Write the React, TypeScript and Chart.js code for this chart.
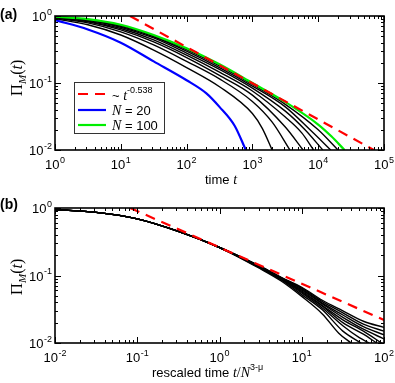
import { useEffect, useRef } from 'react';
import { Chart, registerables } from 'chart.js';

Chart.register(...registerables);

const SANS = '"Liberation Sans", Arial, Helvetica, sans-serif';
const SERIF = '"Liberation Serif", "Times New Roman", serif';

// ---------- Panel (a): Pi_M(t) vs time t, N = 20 ... 100 ----------
const sizesA = [20, 30, 40, 50, 60, 70, 80, 90, 100];
const xExpsA = [0, 1, 2, 3, 4, 5];
const yExps = [0, -1, -2];

const curveA_N20: [number, number][] = [[1, 0.87], [3.16, 0.63], [10, 0.40], [31.6, 0.21], [100, 0.11], [200, 0.07], [316, 0.044], [537, 0.023], [794, 0.01]];
const curveA_N30: [number, number][] = [[1, 0.91], [3.16, 0.74], [10, 0.52], [31.6, 0.31], [100, 0.17], [316, 0.088], [1000, 0.035], [1413, 0.021], [1995, 0.01]];
const curveA_N40: [number, number][] = [[1, 0.93], [3.16, 0.79], [10, 0.58], [31.6, 0.37], [100, 0.21], [316, 0.115], [1000, 0.053], [2000, 0.026], [3715, 0.01]];
const curveA_N50: [number, number][] = [[1, 0.945], [3.16, 0.82], [10, 0.62], [31.6, 0.41], [100, 0.24], [316, 0.13], [1000, 0.066], [3162, 0.022], [5888, 0.01]];
const curveA_N60: [number, number][] = [[1, 0.955], [3.16, 0.84], [10, 0.65], [31.6, 0.44], [100, 0.26], [316, 0.145], [1000, 0.076], [3162, 0.031], [5623, 0.018], [8511, 0.01]];
const curveA_N70: [number, number][] = [[1, 0.96], [3.16, 0.86], [10, 0.68], [31.6, 0.47], [100, 0.28], [316, 0.16], [1000, 0.084], [3162, 0.038], [6310, 0.02], [11749, 0.01]];
const curveA_N80: [number, number][] = [[1, 0.97], [3.16, 0.87], [10, 0.70], [31.6, 0.49], [100, 0.30], [316, 0.17], [1000, 0.09], [3162, 0.044], [7943, 0.019], [15488, 0.01]];
const curveA_N90: [number, number][] = [[1, 0.975], [3.16, 0.89], [10, 0.72], [31.6, 0.51], [100, 0.315], [316, 0.18], [1000, 0.095], [3162, 0.048], [10000, 0.02], [19953, 0.01]];
const curveA_N100: [number, number][] = [[1, 0.98], [3.16, 0.90], [10, 0.74], [31.6, 0.52], [100, 0.33], [316, 0.19], [1000, 0.10], [3162, 0.052], [10000, 0.024], [15849, 0.016], [25119, 0.01]];
const powerLawA: [number, number][] = [[13.8, 1], [70000, 0.01]];

// ---------- Panel (b): collapse vs rescaled time ----------
const xExpsB = [-2, -1, 0, 1, 2];
const curveB_N20: [number, number][] = [[0.01, 0.95], [0.0316, 0.86], [0.1, 0.69], [0.316, 0.45], [1, 0.26], [3.16, 0.125], [5.62, 0.083], [10, 0.049], [17.8, 0.027], [28.2, 0.014], [39.8, 0.01]];
const curveB_N30: [number, number][] = [[0.01, 0.95], [0.0316, 0.86], [0.1, 0.69], [0.316, 0.45], [1, 0.26], [3.16, 0.128], [5.62, 0.086], [10, 0.052], [17.8, 0.031], [31.6, 0.015], [52.5, 0.01]];
const curveB_N40: [number, number][] = [[0.01, 0.95], [0.0316, 0.86], [0.1, 0.69], [0.316, 0.45], [1, 0.26], [3.16, 0.13], [5.62, 0.088], [10, 0.055], [17.8, 0.033], [31.6, 0.018], [50.1, 0.012], [66.1, 0.01]];
const curveB_N50: [number, number][] = [[0.01, 0.95], [0.0316, 0.86], [0.1, 0.69], [0.316, 0.45], [1, 0.26], [3.16, 0.131], [5.62, 0.089], [10, 0.057], [17.8, 0.035], [31.6, 0.02], [56.2, 0.0135], [81.3, 0.01]];
const curveB_N60: [number, number][] = [[0.01, 0.95], [0.0316, 0.86], [0.1, 0.69], [0.316, 0.45], [1, 0.26], [3.16, 0.132], [5.62, 0.09], [10, 0.059], [17.8, 0.036], [31.6, 0.022], [56.2, 0.015], [93.3, 0.01]];
const curveB_N70: [number, number][] = [[0.01, 0.95], [0.0316, 0.86], [0.1, 0.69], [0.316, 0.45], [1, 0.26], [3.16, 0.133], [5.62, 0.091], [10, 0.061], [17.8, 0.038], [31.6, 0.024], [56.2, 0.016], [100, 0.0115]];
const curveB_N80: [number, number][] = [[0.01, 0.95], [0.0316, 0.86], [0.1, 0.69], [0.316, 0.45], [1, 0.26], [3.16, 0.134], [5.62, 0.092], [10, 0.063], [17.8, 0.039], [31.6, 0.026], [56.2, 0.0175], [100, 0.0132]];
const curveB_N90: [number, number][] = [[0.01, 0.95], [0.0316, 0.86], [0.1, 0.69], [0.316, 0.45], [1, 0.26], [3.16, 0.135], [5.62, 0.093], [10, 0.065], [17.8, 0.041], [31.6, 0.028], [56.2, 0.019], [100, 0.015]];
const curveB_N100: [number, number][] = [[0.01, 0.95], [0.0316, 0.86], [0.1, 0.69], [0.316, 0.45], [1, 0.26], [3.16, 0.136], [5.62, 0.094], [10, 0.067], [17.8, 0.043], [31.6, 0.03], [56.2, 0.021], [100, 0.017]];
const powerLawB: [number, number][] = [[0.082, 1], [100, 0.0219]];

const legendLabels = ['~ t^-0.538', 'N = 20', 'N = 100'];

const pts = (c: [number, number][]) => c.map(([x, y]) => ({ x, y }));

function line(c: [number, number][], color: string, width: number, dash: number[] = []) {
  return {
    data: pts(c),
    borderColor: color,
    borderWidth: width,
    borderDash: dash,
    pointRadius: 0,
    fill: false,
    cubicInterpolationMode: 'monotone' as const,
  };
}

function drawPow(ctx: CanvasRenderingContext2D, x: number, y: number, exp: string, align: 'center' | 'right') {
  ctx.font = `13px ${SANS}`;
  const w1 = ctx.measureText('10').width;
  ctx.font = `9px ${SANS}`;
  const w2 = ctx.measureText(exp).width;
  const total = w1 + w2 + 0.5;
  const x0 = align === 'center' ? x - total / 2 : x - total;
  ctx.textAlign = 'left';
  ctx.textBaseline = 'alphabetic';
  ctx.fillStyle = '#000';
  ctx.font = `13px ${SANS}`;
  ctx.fillText('10', x0, y);
  ctx.font = `9px ${SANS}`;
  ctx.fillText(exp, x0 + w1 + 0.5, y - 6.5);
}

type Seg = { t: string; f: string; dy?: number };
function drawSegs(ctx: CanvasRenderingContext2D, x: number, y: number, segs: Seg[], align: 'left' | 'center' = 'left') {
  let total = 0;
  for (const s of segs) { ctx.font = s.f; total += ctx.measureText(s.t).width; }
  let cx = align === 'center' ? x - total / 2 : x;
  ctx.textAlign = 'left';
  ctx.textBaseline = 'alphabetic';
  ctx.fillStyle = '#000';
  for (const s of segs) {
    ctx.font = s.f;
    ctx.fillText(s.t, cx, y + (s.dy || 0));
    cx += ctx.measureText(s.t).width;
  }
}

type Deco = {
  xExps: number[];
  label: string;
  yTitleY: number;
  xTitle: Seg[];
  xTitleX: number;
  xTitleY: number;
  xTitleAlign: 'left' | 'center';
  legend: boolean;
};

function decoPlugin(d: Deco) {
  return {
    id: 'deco',
    afterDraw(chart: any) {
      const ctx: CanvasRenderingContext2D = chart.ctx;
      const { left, right, top, bottom } = chart.chartArea;
      const xs = chart.scales.x;
      const ys = chart.scales.y;
      ctx.save();
      // ticks (inward, all four sides)
      ctx.strokeStyle = '#000';
      ctx.lineWidth = 1;
      ctx.beginPath();
      const xmin = Math.min(...d.xExps), xmax = Math.max(...d.xExps);
      for (let e = xmin; e <= xmax; e++) {
        for (let m = 1; m <= 9; m++) {
          if (e === xmax && m > 1) break;
          const v = m * Math.pow(10, e);
          const px = Math.round(xs.getPixelForValue(v)) + 0.5;
          const len = m === 1 ? 6 : 3;
          ctx.moveTo(px, bottom); ctx.lineTo(px, bottom - len);
          ctx.moveTo(px, top); ctx.lineTo(px, top + len);
        }
      }
      for (let e = -2; e <= 0; e++) {
        for (let m = 1; m <= 9; m++) {
          if (e === 0 && m > 1) break;
          const v = m * Math.pow(10, e);
          const py = Math.round(ys.getPixelForValue(v)) + 0.5;
          const len = m === 1 ? 6 : 3;
          ctx.moveTo(left, py); ctx.lineTo(left + len, py);
          ctx.moveTo(right, py); ctx.lineTo(right - len, py);
        }
      }
      ctx.stroke();
      // frame
      ctx.lineWidth = 1.6;
      ctx.strokeRect(left, top, right - left, bottom - top);
      // tick labels
      for (const e of d.xExps) {
        drawPow(ctx, xs.getPixelForValue(Math.pow(10, e)), bottom + 19, String(e), 'center');
      }
      for (const e of yExps) {
        drawPow(ctx, left - 3, ys.getPixelForValue(Math.pow(10, e)) + 5, String(e), 'right');
      }
      // panel label
      ctx.font = `bold 14px ${SANS}`;
      ctx.fillStyle = '#000';
      ctx.textAlign = 'left';
      ctx.fillText(d.label, 0, 19);
      // y title (rotated)
      ctx.save();
      ctx.translate(16, d.yTitleY);
      ctx.rotate(-Math.PI / 2);
      drawSegs(ctx, 0, 6, [
        { t: 'Π', f: `17px ${SERIF}` },
        { t: 'M', f: `italic 11px ${SERIF}`, dy: 4 },
        { t: '(', f: `16px ${SERIF}` },
        { t: 't', f: `italic 16px ${SERIF}` },
        { t: ')', f: `16px ${SERIF}` },
      ], 'center');
      ctx.restore();
      // x title
      drawSegs(ctx, d.xTitleX, d.xTitleY, d.xTitle, d.xTitleAlign);
      // legend
      if (d.legend) {
        const bx = 74.5, by = 82.5, bw = 90, bh = 51;
        ctx.fillStyle = '#fff';
        ctx.fillRect(bx, by, bw, bh);
        ctx.strokeStyle = '#333';
        ctx.lineWidth = 1;
        ctx.strokeRect(bx, by, bw, bh);
        const rows = [94, 110, 125];
        const cols = ['#ff0000', '#0000ff', '#00ee00'];
        rows.forEach((ry, i) => {
          ctx.beginPath();
          ctx.strokeStyle = cols[i];
          ctx.lineWidth = 2.2;
          ctx.setLineDash(i === 0 ? [10, 7] : []);
          ctx.moveTo(78, ry);
          ctx.lineTo(106, ry);
          ctx.stroke();
        });
        ctx.setLineDash([]);
        const [l0, l1, l2] = legendLabels;
        const pl = l0.split('^');
        drawSegs(ctx, 112, rows[0] + 6, [
          { t: pl[0].slice(0, 2), f: `13px ${SANS}` },
          { t: pl[0].slice(2), f: `italic 14px ${SERIF}` },
          { t: pl[1], f: `9px ${SANS}`, dy: -7 },
        ]);
        drawSegs(ctx, 112, rows[1] + 5, [
          { t: l1.slice(0, 1), f: `italic 14px ${SERIF}` },
          { t: l1.slice(1), f: `13px ${SANS}` },
        ]);
        drawSegs(ctx, 112, rows[2] + 5, [
          { t: l2.slice(0, 1), f: `italic 14px ${SERIF}` },
          { t: l2.slice(1), f: `13px ${SANS}` },
        ]);
      }
      ctx.restore();
    },
  };
}

function baseOptions(xmin: number, xmax: number, pad: { left: number; right: number; top: number; bottom: number }) {
  return {
    animation: false as const,
    responsive: false,
    events: [] as any[],
    layout: { padding: pad },
    plugins: { legend: { display: false }, tooltip: { enabled: false } },
    scales: {
      x: { type: 'logarithmic' as const, min: xmin, max: xmax, display: false },
      y: { type: 'logarithmic' as const, min: 0.01, max: 1, display: false },
    },
  };
}

export default function App() {
  const refA = useRef<HTMLCanvasElement>(null);
  const refB = useRef<HTMLCanvasElement>(null);

  useEffect(() => {
    const blackA = [curveA_N90, curveA_N80, curveA_N70, curveA_N60, curveA_N50, curveA_N40, curveA_N30];
    const chartA = new Chart(refA.current!, {
      type: 'line',
      data: {
        datasets: [
          line(powerLawA, '#ff0000', 2.2, [10, 7]),
          line(curveA_N100, '#00ee00', 2.2),
          line(curveA_N20, '#0000ff', 2.2),
          ...blackA.map((c) => line(c, '#000', 1.4)),
        ] as any,
      },
      options: baseOptions(1, 1e5, { left: 55, right: 11, top: 16, bottom: 40 }) as any,
      plugins: [
        decoPlugin({
          xExps: xExpsA,
          label: '(a)',
          yTitleY: 78,
          xTitle: [
            { t: 'time ', f: `13px ${SANS}` },
            { t: 't', f: `italic 14px ${SERIF}` },
          ],
          xTitleX: 221,
          xTitleY: 184,
          xTitleAlign: 'center',
          legend: true,
        }),
      ],
    });
    const blackB = [curveB_N100, curveB_N90, curveB_N80, curveB_N70, curveB_N60, curveB_N50, curveB_N40, curveB_N30, curveB_N20];
    const chartB = new Chart(refB.current!, {
      type: 'line',
      data: {
        datasets: [
          line(powerLawB, '#ff0000', 2.2, [10, 7]),
          ...blackB.map((c) => line(c, '#000', 1.4)),
        ] as any,
      },
      options: baseOptions(0.01, 100, { left: 55, right: 11, top: 18, bottom: 40 }) as any,
      plugins: [
        decoPlugin({
          xExps: xExpsB,
          label: '(b)',
          yTitleY: 87,
          xTitle: [
            { t: 'rescaled time ', f: `13px ${SANS}` },
            { t: 't', f: `italic 14px ${SERIF}` },
            { t: '/', f: `14px ${SERIF}` },
            { t: 'N', f: `italic 14px ${SERIF}` },
            { t: '3-μ', f: `9px ${SANS}`, dy: -7 },
          ],
          xTitleX: 152,
          xTitleY: 187,
          xTitleAlign: 'left',
          legend: false,
        }),
      ],
    });
    return () => {
      chartA.destroy();
      chartB.destroy();
    };
  }, []);

  return (
    <div style={{ position: 'absolute', left: 0, top: 0, width: 395, height: 383, background: '#fff' }}>
      <canvas ref={refA} width={395} height={190} style={{ position: 'absolute', left: 0, top: 0, display: 'block' }} />
      <canvas ref={refB} width={395} height={193} style={{ position: 'absolute', left: 0, top: 190, display: 'block' }} />
    </div>
  );
}
